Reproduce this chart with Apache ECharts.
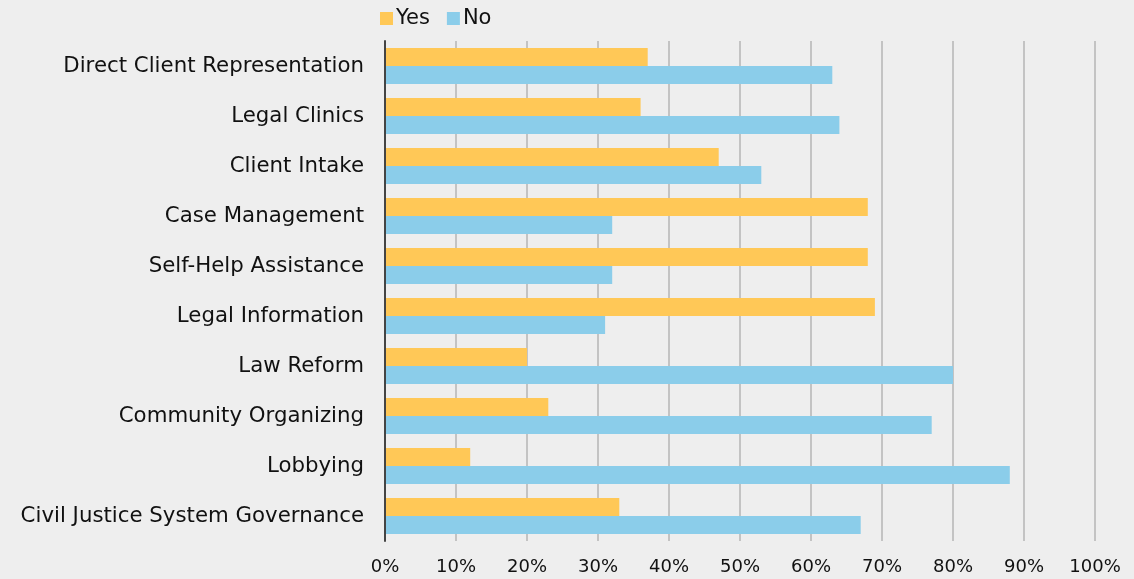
<!DOCTYPE html>
<html><head><meta charset="utf-8">
<script src="https://cdn.jsdelivr.net/npm/echarts@6/dist/echarts.min.js"></script>
<style>html,body{margin:0;padding:0;background:#eeeeee;}#c{width:1134px;height:579px;}</style>
</head><body><div id="c"></div>
<script>
const categories = ["Direct Client Representation","Legal Clinics","Client Intake","Case Management","Self-Help Assistance","Legal Information","Law Reform","Community Organizing","Lobbying","Civil Justice System Governance"];
const yesValues = [37,36,47,68,68,69,20,23,12,33];
const noValues = [63,64,53,32,32,31,80,77,88,67];
const tickValues = [0,10,20,30,40,50,60,70,80,90,100];

const chart = echarts.init(document.getElementById('c'));
const font = "DejaVu Sans";
chart.setOption({
  backgroundColor: '#eeeeee',
  animation: false,
  textStyle: {fontFamily: font},
  legend: {
    top: 3, left: 375,
    itemWidth: 13, itemHeight: 13, itemGap: 17,
    icon: 'rect',
    textStyle: {fontFamily: font, fontSize: 21, color: '#111', padding: [0,0,0,-2]},
    data: ['Yes','No']
  },
  grid: {left: 385, right: 39, top: 41, bottom: 38, containLabel: false},
  xAxis: {
    type: 'value', min: 0, max: 100, interval: 10,
    axisLine: {show: false},
    axisTick: {show: false},
    splitLine: {show: true, lineStyle: {color: '#b4b4b4', width: 1.5}},
    axisLabel: {fontFamily: font, fontSize: 18, color: '#111', margin: 17, formatter: v => v + '%'}
  },
  yAxis: {
    type: 'category', inverse: true, data: categories, z: 5,
    axisLine: {show: true, lineStyle: {color: '#444', width: 2}},
    axisTick: {show: false},
    axisLabel: {fontFamily: font, fontSize: 21.3, color: '#111', margin: 21}
  },
  series: [
    {name: 'Yes', type: 'bar', data: yesValues, barWidth: 18, barGap: '0%', itemStyle: {color: '#ffc857'}},
    {name: 'No', type: 'bar', data: noValues, barWidth: 18, barGap: '0%', itemStyle: {color: '#8bcdea'}}
  ]
});
</script></body></html>
